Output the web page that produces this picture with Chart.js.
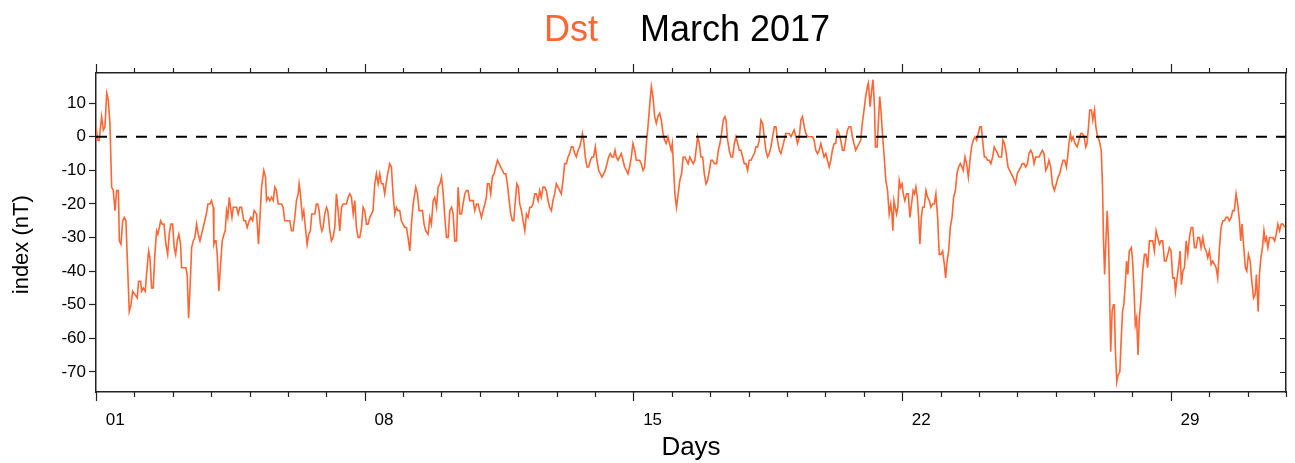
<!DOCTYPE html>
<html>
<head>
<meta charset="utf-8">
<title>Dst March 2017</title>
<script src="https://cdn.jsdelivr.net/npm/chart.js@4/dist/chart.umd.min.js"></script>
<style>
  html, body { margin: 0; padding: 0; background: #fff; }
  #wrap { width: 1295px; height: 463px; }
</style>
</head>
<body>
<div id="wrap"><canvas id="dst-chart" width="1295" height="463"></canvas></div>
<script>
var titleParts = ["Dst", "March 2017"];
var dayLabels = ["01", "08", "15", "22", "29"];
var labelHours = [12, 180, 348, 516, 684];   // middle of day 1, 8, 15, 22, 29
var yTicks = [10, 0, -10, -20, -30, -40, -50, -60, -70];
var hoursInMonth = 744;

// [hour of month, Dst nT]
var dstReadings = [
  [0, 3], [1, -1], [2, -1], [3.5, 6], [4.6, 2], [5.6, 3], [6.7, 13], [7.7, 11], [8.7, 4], [9.8, -15],
  [10.8, -16], [11.9, -22], [12.9, -16], [14, -16], [14.6, -31], [15.6, -32], [16.7, -25], [17.7, -24], [18.7, -25], [20.8, -52],
  [21.9, -50], [22.9, -46], [24.4, -47], [25, -47], [25.8, -48], [26.6, -43], [27.9, -43], [28.5, -46], [29.6, -45], [30.8, -46],
  [31.6, -41], [32.9, -34], [33.7, -36], [34.8, -45], [35.8, -45], [36.8, -35], [37.9, -28], [38.7, -29], [39.6, -27], [40.4, -25],
  [41.4, -26], [42.5, -26], [43.7, -32], [44.8, -35], [45.8, -29], [46.8, -26], [47.9, -26], [48.9, -33], [49.8, -35], [50.8, -31],
  [51.8, -29], [52.9, -32], [53.5, -39], [55, -39], [56.2, -39], [57, -41], [57.9, -54], [58.7, -46], [59.8, -33], [60.8, -31],
  [61.8, -30], [62.9, -26], [63.9, -29], [65, -31], [66, -29], [67, -27], [68, -25], [69, -23], [70, -20], [71.2, -20],
  [72.2, -19], [73.3, -21], [73.7, -32], [74.3, -31], [75, -31], [75.8, -35], [76.8, -46], [77.9, -38], [78.9, -31], [80, -29],
  [80.8, -28], [81.6, -22], [82.4, -24], [83.3, -18], [84.1, -21], [85, -24], [85.8, -21], [86.8, -21], [87.9, -21], [88.9, -23],
  [89.9, -21], [91, -21], [92.4, -25], [93.5, -25], [94.5, -27], [95.8, -25], [96.8, -24], [97.9, -25], [98.9, -22], [100.4, -23],
  [101.6, -32], [102.4, -25], [103.5, -15], [104.9, -10], [106, -12], [106.6, -19], [107.6, -18], [108.7, -19], [109.7, -18], [110.8, -19],
  [111.8, -15], [112.8, -16], [113.9, -20], [114.9, -20], [116, -20], [117, -21], [118, -25], [119.1, -25], [120.1, -25], [121.2, -25],
  [122.2, -28], [123.2, -28], [124.3, -24], [125.3, -19], [126.4, -17], [127, -14], [127.8, -17], [129, -24], [129.9, -22], [130.9, -27],
  [132, -32], [133, -29], [134, -28], [134.9, -23], [135.7, -23], [136.8, -23], [137.8, -20], [138.7, -20], [139.5, -22], [140.3, -26],
  [141.2, -28], [142, -27], [143, -23], [144.1, -21], [144.9, -22], [146.2, -28], [147.2, -31], [148.2, -30], [149.3, -27], [150.3, -17],
  [151.4, -22], [152.4, -28], [153.5, -21], [154.5, -20], [155.6, -20], [156.6, -20], [157.6, -18], [158.7, -17], [159.7, -18], [160.8, -23],
  [161.8, -19], [162.8, -27], [163.9, -30], [164.9, -30], [166, -27], [167, -21], [168, -22], [169.1, -26], [170.1, -26], [171.2, -24],
  [172.2, -23], [173.2, -22], [174.3, -14], [175.3, -11], [176.4, -14], [177.4, -11], [178.4, -14], [179.5, -14], [180.5, -17], [182, -12],
  [183.6, -8], [184.7, -9], [185.7, -17], [186.8, -23], [187.8, -21], [188.8, -22], [189.9, -22], [190.9, -25], [192, -26], [193, -27],
  [194.1, -27], [195.1, -30], [196.2, -34], [197.2, -26], [198.3, -20], [199.9, -15], [201, -17], [202, -22], [203, -22], [204.1, -22],
  [205.1, -26], [206.2, -28], [207.6, -29], [208.7, -24], [209.7, -26], [210.8, -19], [211.8, -18], [212.9, -21], [213.9, -15], [215, -14],
  [216, -12], [217.1, -17], [218.1, -24], [219.1, -30], [220.2, -30], [221.2, -22], [222.3, -21], [223.3, -23], [224.3, -31], [225.4, -31],
  [226.4, -15], [227.5, -23], [228.5, -23], [229.5, -20], [230.6, -17], [231.6, -16], [232.6, -16], [233.7, -19], [234.7, -19], [235.8, -19],
  [236.8, -22], [237.9, -20], [238.9, -20], [239.9, -22], [241, -24], [242, -22], [243.1, -20], [244.1, -18], [244.7, -14], [245.8, -14],
  [246.8, -17], [247.8, -12], [248.9, -11], [249.9, -9], [251, -7], [252, -8], [253, -9], [254.1, -10], [255.1, -11], [256.2, -11],
  [257.2, -14], [258.3, -19], [259.3, -23], [260.3, -25], [261.2, -25], [262, -20], [263.1, -14], [264.1, -15], [264.9, -20], [266, -22],
  [267, -25], [268.1, -28], [269.1, -23], [270.1, -24], [271.2, -21], [272.2, -21], [273.2, -20], [274.3, -17], [275.3, -17], [276.4, -19],
  [277.4, -16], [278.4, -18], [279.5, -15], [280.5, -15], [281.6, -16], [282.6, -19], [283.6, -21], [284.7, -22], [285.7, -19], [286.8, -17],
  [287.8, -14], [288.9, -15], [289.9, -16], [290.9, -17], [292, -13], [293, -8], [294.1, -8], [295.1, -6], [296.1, -5], [297.2, -3],
  [298.2, -3], [299.3, -5], [300.3, -6], [301.4, -4], [302.4, -3], [303.4, -1], [304.1, 1], [304.9, -1], [305.9, -6], [307, -9],
  [308, -9], [309.1, -7], [310.1, -6], [311.1, -6], [312.2, -3], [313.2, -7], [314.3, -10], [315.3, -11], [316.3, -12], [317.4, -11],
  [318.4, -10], [319.5, -8], [320.5, -6], [321.5, -5], [322.6, -6], [323.6, -6], [324.5, -4], [325.3, -6], [326.4, -7], [327.4, -6],
  [328.4, -5], [329.5, -7], [330.5, -9], [331.6, -10], [332.6, -11], [333.6, -9], [334.7, -6], [335.7, -2], [336.8, -4], [337.8, -7],
  [338.8, -7], [339.9, -7], [340.9, -8], [342, -10], [343, -9], [344.1, -2], [345.1, 3], [346.1, 9], [347.2, 15], [348.2, 12],
  [349.3, 6], [350.3, 4], [351.3, 6], [352.4, 7], [353.4, 5], [354.5, 1], [355.5, -1], [356.5, -2], [357.6, 0], [358.6, -2],
  [359.6, -4], [360.3, -2], [361.1, -9], [361.9, -17], [362.9, -21], [364, -17], [365, -13], [366.1, -11], [367.1, -6], [368.2, -6],
  [369.2, -7], [370.2, -8], [371.3, -6], [372.3, -7], [373.4, -8], [374.4, -7], [375.4, -3], [376.2, 0], [377.2, -2], [378.2, -6],
  [379.3, -6], [380.3, -11], [381.4, -14], [382.4, -13], [383.5, -10], [384.5, -7], [385.5, -7], [386.6, -8], [388, -8], [389.1, -4],
  [390.1, -2], [391.1, 1], [392.2, 5], [393.2, 6], [393.9, 5], [394.9, -1], [395.9, -4], [397, -6], [398, -6], [399.1, -2],
  [400.1, 0], [401.2, -2], [402.2, -4], [403.2, -4], [404.3, -6], [405.3, -8], [406.4, -8], [407.4, -10], [408.4, -7], [409.5, -7],
  [410.5, -6], [411.6, -5], [412.6, -3], [413.6, -3], [414.7, -1], [415.7, 5], [416.8, 4], [417.8, 0], [418.8, -4], [419.9, -6],
  [420.9, -5], [422, -3], [423, 0], [424.1, 3], [425.1, 3], [426.1, -1], [427.2, -4], [428.2, -5], [429.3, -3], [430.3, -1],
  [431.3, 1], [432.4, 1], [433.4, 1], [434.5, 0], [435.5, 1], [436.5, 2], [437.6, 0], [438.6, -2], [439.7, 0], [440.7, 5],
  [441.7, 6], [442.8, 3], [443.8, 1], [444.9, 0], [445.9, 0], [446.9, 0], [448, 0], [449, -1], [450, -4], [451.1, -5],
  [452.1, -4], [453.2, -2], [454.2, -4], [455.2, -6], [456.3, -5], [457.3, -7], [458.4, -9], [459.4, -7], [460.4, -4], [461.5, -2],
  [462.5, -2], [463.5, 2], [464.6, 1], [465.6, -1], [466.7, -4], [467.7, -4], [468.7, -1], [469.8, 2], [470.8, 3], [471.9, 3],
  [472.9, 0], [473.9, -2], [475, -4], [476, -3], [477.1, -2], [478.1, -1], [479.1, 4], [480.2, 8], [481.2, 12], [482.3, 15],
  [482.9, 16], [484, 9], [485, 14], [485.8, 17], [486.7, 9], [487.3, -3], [488.4, -3], [489.2, 5], [490, 12], [490.9, 7],
  [491.7, 1], [492.8, -6], [493.8, -13], [494.9, -16], [495.9, -23], [496.9, -20], [497.6, -23], [498.2, -28], [498.9, -19], [499.7, -21],
  [500.5, -23], [501.3, -21], [502.2, -13], [503, -15], [503.9, -14], [504.7, -17], [505.7, -19], [506.8, -17], [507.8, -17], [508.9, -24],
  [509.9, -20], [510.9, -16], [511.8, -17], [512.6, -15], [513.5, -18], [514.3, -24], [515.1, -32], [516, -24], [516.8, -21], [517.8, -21],
  [518.9, -16], [519.9, -18], [521, -19], [522, -21], [523.1, -20], [524.1, -20], [525.1, -17], [526.2, -24], [527.2, -35], [528.3, -35],
  [529.3, -34], [530.4, -38], [531.2, -42], [532.1, -37], [533.1, -34], [534.1, -27], [535.2, -24], [536.2, -18], [537.3, -16], [538.3, -11],
  [539.3, -9], [540.4, -8], [541.4, -9], [542.2, -10], [543.3, -6], [544.3, -8], [545.4, -12], [546.4, -7], [547.4, -3], [548.5, -1],
  [549.5, 0], [550.6, -1], [551.6, 1], [552.6, 3], [553.5, 3], [554.3, -1], [555.4, -6], [556.4, -6], [557.4, -7], [558.5, -7],
  [559.5, -8], [560.6, -6], [561.6, -3], [562.6, -4], [563.7, -5], [564.5, -6], [566.2, -6], [567, -1], [568, -2], [569.1, -5],
  [570.2, -9], [571.2, -10], [572.2, -11], [573.3, -12], [574.9, -14], [576, -11], [577, -10], [578.1, -9], [579.1, -8], [580.2, -8],
  [581.2, -9], [582.3, -8], [583.3, -5], [584.4, -4], [585.4, -5], [586.5, -8], [587.5, -6], [588.5, -6], [589.6, -6], [590.6, -5],
  [591.7, -4], [592.7, -5], [593.8, -10], [594.8, -9], [595.8, -7], [596.9, -9], [597.9, -14], [599.2, -16], [600.4, -14], [601.5, -12],
  [602.5, -11], [603.5, -9], [604.6, -7], [605.6, -7], [606.7, -9], [607.5, -6], [608.3, -2], [609.2, 1], [610, -1], [610.9, 0],
  [612.1, -2], [613.4, -3], [614.6, -1], [615.7, 1], [616.7, 1], [617.8, 0], [618.8, -3], [619.6, -2], [620.5, 3], [621.3, 8],
  [622.4, 8], [623.2, 5], [624.3, 8], [625.1, 3], [626.2, 0], [627.2, -1], [628.5, -4], [629.3, -15], [629.9, -31], [630.6, -41],
  [631.4, -31], [632.2, -22], [633.1, -32], [633.7, -46], [634.4, -64], [635.3, -52], [636.1, -50], [636.7, -50], [637.3, -63], [638.2, -73],
  [639, -71], [640.1, -70], [640.9, -61], [641.8, -52], [642.6, -50], [643.5, -44], [644.3, -37], [645.1, -41], [646, -34], [647.3, -33],
  [648.1, -37], [649, -46], [649.8, -56], [650.6, -54], [651.5, -65], [652.3, -54], [653.4, -48], [654.4, -40], [655.5, -35], [656.5, -35],
  [657.5, -39], [658.6, -31], [659.6, -31], [660.7, -31], [661.7, -34], [662.8, -28], [663.8, -30], [664.9, -32], [665.9, -31], [666.9, -31],
  [668, -37], [669, -37], [670.1, -35], [671.1, -33], [672.1, -34], [673.2, -42], [674.2, -42], [674.9, -46], [675.9, -42], [677, -38],
  [677.8, -34], [678.6, -44], [679.5, -40], [680.5, -39], [681.6, -31], [682.6, -35], [683.6, -30], [684.7, -27], [685.7, -27], [686.8, -33],
  [687.8, -33], [688.9, -30], [689.9, -30], [690.9, -33], [692, -30], [693, -33], [694.1, -34], [695.1, -36], [696.1, -34], [697.2, -38],
  [698.2, -37], [699.3, -38], [700.3, -39], [701.3, -42], [702.4, -33], [703.4, -27], [704.5, -25], [705.5, -25], [706.5, -24], [707.6, -24],
  [708.6, -25], [709.7, -24], [710.7, -22], [711.7, -22], [712.8, -17], [713.8, -20], [714.9, -25], [715.7, -31], [716.5, -26], [717.6, -33],
  [718.6, -39], [719.5, -40], [720.5, -35], [721.6, -37], [722.6, -43], [723.7, -48], [724.7, -47], [725.5, -41], [726.6, -52], [727.4, -41],
  [728.3, -36], [729.3, -33], [730.2, -28], [731, -31], [731.8, -30], [732.7, -33], [733.7, -30], [734.8, -30], [735.8, -30], [736.9, -31],
  [737.9, -29], [738.9, -26], [740, -28], [741, -26], [742.1, -26], [743.3, -27]
];

var lineColor = "#ff6633";
var frameColor = "#222222";
var fontFamily = "'Liberation Sans', Arial, Helvetica, sans-serif";

Chart.defaults.font.family = fontFamily;
Chart.defaults.color = "#000";

// Chart.js only draws outward tick marks on one side, so the
// day ticks (top + bottom) and the inward right-hand ticks go here
var frameTicks = {
    id: "frameTicks",
    afterDraw: function (chart) {
        var ctx = chart.ctx;
        var area = chart.chartArea;
        var xs = chart.scales.x;
        var ys = chart.scales.y;
        ctx.save();
        ctx.strokeStyle = frameColor;
        ctx.lineWidth = 1.2;
        ctx.beginPath();
        for (var h = 0; h <= hoursInMonth; h += 24) {
            var px = Math.round(xs.getPixelForValue(h)) + 0.5;
            var len = (h % 168 === 0) ? 9 : 5;
            ctx.moveTo(px, area.top);
            ctx.lineTo(px, area.top - len);
            ctx.moveTo(px, area.bottom);
            ctx.lineTo(px, area.bottom + len);
        }
        yTicks.forEach(function (v) {
            var py = Math.round(ys.getPixelForValue(v)) + 0.5;
            ctx.moveTo(area.right, py);
            ctx.lineTo(area.right - 6, py);
        });
        ctx.stroke();
        ctx.restore();
    }
};

// title in two colours: "Dst" like the curve, date in black
var twoColourTitle = {
    id: "twoColourTitle",
    afterDraw: function (chart) {
        var ctx = chart.ctx;
        ctx.save();
        ctx.font = "36px " + fontFamily;
        ctx.textBaseline = "alphabetic";
        ctx.textAlign = "left";
        ctx.fillStyle = lineColor;
        ctx.fillText(titleParts[0], 544, 41);
        ctx.fillStyle = "#000";
        ctx.fillText(titleParts[1], 640, 41);
        ctx.restore();
    }
};

var tickFont = { size: 17 };

new Chart(document.getElementById("dst-chart"), {
    type: "line",
    data: {
        datasets: [{
            label: "zero",
            data: [{ x: 0, y: 0 }, { x: hoursInMonth, y: 0 }],
            borderColor: "#000",
            borderWidth: 2,
            borderDash: [11, 9],
            pointRadius: 0,
            order: 0
        }, {
            label: "Dst",
            data: dstReadings.map(function (p) { return { x: p[0], y: p[1] }; }),
            borderColor: lineColor,
            borderWidth: 1.6,
            pointRadius: 0,
            tension: 0,
            order: 1
        }]
    },
    options: {
        responsive: false,
        animation: false,
        events: [],
        layout: { padding: 0 },
        plugins: {
            legend: { display: false },
            tooltip: { enabled: false },
            title: { display: false }
        },
        scales: {
            x: {
                type: "linear",
                position: "bottom",
                min: 0,
                max: hoursInMonth,
                afterBuildTicks: function (scale) {
                    scale.ticks = labelHours.map(function (h) { return { value: h }; });
                },
                afterFit: function (scale) { scale.height = 71; },
                grid: { display: true, drawOnChartArea: false, drawTicks: false },
                border: { display: true, color: frameColor, width: 1.5 },
                ticks: {
                    autoSkip: false,
                    maxRotation: 0,
                    padding: 18,
                    font: tickFont,
                    color: "#000",
                    callback: function (v) { return dayLabels[labelHours.indexOf(v)]; }
                },
                title: {
                    display: true,
                    text: "Days",
                    color: "#000",
                    font: { size: 26 },
                    padding: { top: 0, bottom: 0 }
                }
            },
            xTop: {
                type: "linear",
                position: "top",
                min: 0,
                max: hoursInMonth,
                afterFit: function (scale) { scale.height = 73; },
                grid: { display: true, drawOnChartArea: false, drawTicks: false },
                border: { display: true, color: frameColor, width: 1.5 },
                ticks: { display: false }
            },
            y: {
                position: "left",
                min: -76,
                max: 19,
                afterBuildTicks: function (scale) {
                    scale.ticks = yTicks.map(function (v) { return { value: v }; });
                },
                afterFit: function (scale) { scale.width = 96; },
                grid: { display: true, drawOnChartArea: false, drawTicks: true, tickLength: 7, color: frameColor, tickWidth: 1.2 },
                border: { display: true, color: frameColor, width: 1.5 },
                ticks: { padding: 3, font: tickFont, color: "#000" },
                title: {
                    display: true,
                    // trailing spaces push the label a bit below the axis middle, as in the original
                    text: "index (nT)\u00a0\u00a0\u00a0\u00a0",
                    color: "#000",
                    font: { size: 22 },
                    padding: { top: 9, bottom: 0 }
                }
            },
            yRight: {
                position: "right",
                min: -76,
                max: 19,
                afterFit: function (scale) { scale.width = 9; },
                grid: { display: true, drawOnChartArea: false, drawTicks: false },
                border: { display: true, color: frameColor, width: 1.5 },
                ticks: { display: false }
            }
        }
    },
    plugins: [frameTicks, twoColourTitle]
});
</script>
</body>
</html>
